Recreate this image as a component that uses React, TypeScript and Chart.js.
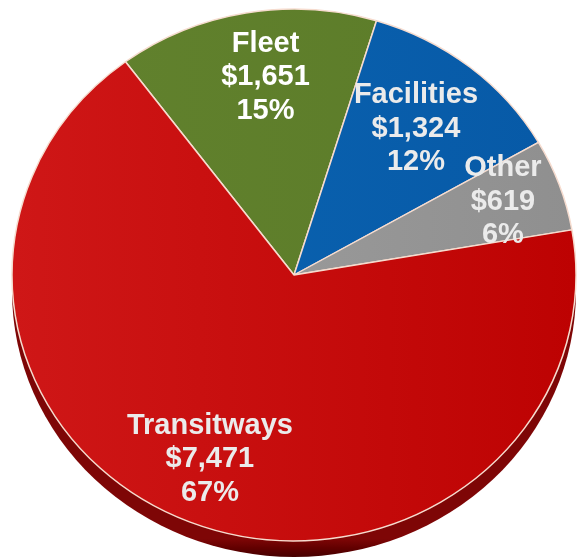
import React, { useEffect, useRef } from 'react';
import { Chart, registerables } from 'chart.js';

Chart.register(...registerables);

// ---- data ----
const categories = ['Fleet', 'Facilities', 'Other', 'Transitways'];
const amounts = [1651, 1324, 619, 7471];
const percentLabels = ['15%', '12%', '6%', '67%'];

// ---- styling ----
const sliceColors = [
  ['#62822e', '#5b7b28'],
  ['#0b66b4', '#0759a6'],
  ['#a2a2a2', '#8f8f8f'],
  ['#cf1717', '#bd0202'],
];
const labelRadiusFrac = [0.75, 0.7, 0.79, 0.755];
const labelAngleShiftDeg = [2.1, -0.4, -0.5, 1.5];
const SY = 0.943; // vertical squash of the tilted pie
const DEPTH = 16; // visible thickness of the pie rim
const LINE_H = 33.5;
const FONT = 'bold 29px "Liberation Sans", Arial, sans-serif';

const formatAmount = (v: number) => '$' + v.toLocaleString('en-US');

const tiltPlugin = {
  id: 'tilt',
  beforeDatasetsDraw(chart: any) {
    const meta = chart.getDatasetMeta(0);
    const arc = meta.data[0];
    if (!arc) return;
    const { x, y, outerRadius } = arc.getProps(['x', 'y', 'outerRadius'], true);
    const ctx = chart.ctx as CanvasRenderingContext2D;
    // rim / shadow under the pie
    ctx.save();
    const g = ctx.createLinearGradient(0, y + outerRadius * SY - 2, 0, y + outerRadius * SY + DEPTH);
    g.addColorStop(0, '#7e0606');
    g.addColorStop(0.5, '#620000');
    g.addColorStop(1, '#460000');
    ctx.fillStyle = g;
    ctx.beginPath();
    ctx.ellipse(x, y + DEPTH, outerRadius, outerRadius * SY, 0, 0, Math.PI * 2);
    ctx.fill();
    ctx.restore();
    // squash the pie vertically
    ctx.save();
    ctx.translate(x, y);
    ctx.scale(1, SY);
    ctx.translate(-x, -y);
  },
  afterDatasetsDraw(chart: any) {
    const ctx = chart.ctx as CanvasRenderingContext2D;
    ctx.restore();
    const meta = chart.getDatasetMeta(0);
    ctx.save();
    ctx.font = FONT;
    ctx.textAlign = 'center';
    ctx.textBaseline = 'middle';
    meta.data.forEach((arc: any, i: number) => {
      const { x, y, startAngle, endAngle, outerRadius } = arc.getProps(
        ['x', 'y', 'startAngle', 'endAngle', 'outerRadius'],
        true
      );
      const mid = (startAngle + endAngle) / 2 + (labelAngleShiftDeg[i] * Math.PI) / 180;
      const r = outerRadius * labelRadiusFrac[i];
      const px = x + Math.cos(mid) * r;
      const py = y + Math.sin(mid) * r * SY;
      const lines = [categories[i], formatAmount(amounts[i]), percentLabels[i]];
      ctx.fillStyle = i === 0 ? '#ffffff' : '#ebebeb';
      lines.forEach((t, k) => {
        ctx.fillText(t, px, py + (k - 1) * LINE_H);
      });
    });
    ctx.restore();
  },
};

export default function App() {
  const canvasRef = useRef<HTMLCanvasElement | null>(null);

  useEffect(() => {
    document.body.style.margin = '0';
    const canvas = canvasRef.current;
    if (!canvas) return;
    const chart = new Chart(canvas, {
      type: 'pie',
      data: {
        labels: categories,
        datasets: [
          {
            data: amounts,
            clip: false as any,
            backgroundColor: (c: any) => {
              const chart = c.chart;
              const area = chart.chartArea;
              const pair = sliceColors[c.dataIndex] || sliceColors[0];
              if (!area) return pair[0];
              const g = chart.ctx.createLinearGradient(area.left, 0, area.right, 0);
              g.addColorStop(0, pair[0]);
              g.addColorStop(1, pair[1]);
              return g;
            },
            borderColor: '#f6dccf',
            borderWidth: 1.5,
          } as any,
        ],
      },
      options: {
        responsive: false,
        animation: false,
        rotation: -36.7,
        radius: 282,
        layout: { padding: { left: 12, right: 1, top: 0, bottom: 10 } },
        plugins: {
          legend: { display: false },
          tooltip: { enabled: false },
        },
        events: [],
      } as any,
      plugins: [tiltPlugin],
    });
    return () => chart.destroy();
  }, []);

  return (
    <div style={{ position: 'absolute', left: 0, top: 0, width: 577, height: 560 }}>
      <canvas ref={canvasRef} width={577} height={560} style={{ display: 'block' }} />
    </div>
  );
}
